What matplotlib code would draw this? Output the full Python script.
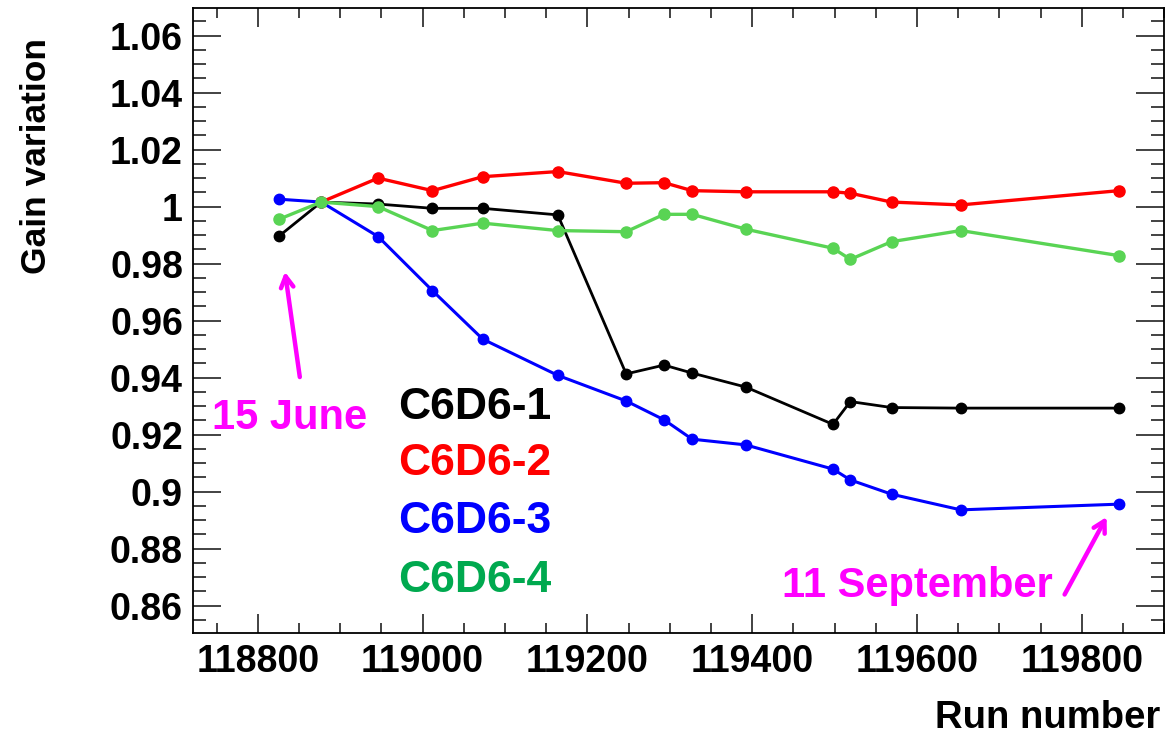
import matplotlib.pyplot as plt
from matplotlib.ticker import MultipleLocator, FuncFormatter

# run numbers of the gain measurements
runs = [118826, 118877, 118946, 119012, 119073, 119164, 119247, 119293,
        119327, 119392, 119498, 119519, 119569, 119653, 119845]

gain_1 = [0.9897, 1.0016, 1.0009, 0.9994, 0.9994, 0.9971, 0.9413, 0.9444,
          0.9416, 0.9367, 0.9236, 0.9316, 0.9295, 0.9293, 0.9293]
# C6D6-2 has no point at the first run
gain_2 = [1.0016, 1.0100, 1.0056, 1.0105, 1.0123, 1.0082, 1.0084,
          1.0056, 1.0052, 1.0052, 1.0047, 1.0016, 1.0006, 1.0056]
gain_3 = [1.0026, 1.0016, 0.9895, 0.9705, 0.9535, 0.9408, 0.9318, 0.9252,
          0.9184, 0.9164, 0.9079, 0.9041, 0.8991, 0.8936, 0.8956]
gain_4 = [0.9956, 1.0016, 1.0000, 0.9916, 0.9942, 0.9916, 0.9912, 0.9973,
          0.9973, 0.9921, 0.9854, 0.9815, 0.9877, 0.9916, 0.9828]

detectors = ['C6D6-1', 'C6D6-2', 'C6D6-3', 'C6D6-4']
line_colors = ['black', '#ff0000', '#0000ff', '#59d454']
text_colors = ['black', '#ff0000', '#0000ff', '#00a94f']

plt.rcParams['font.family'] = ['Liberation Sans', 'DejaVu Sans']
plt.rcParams['font.weight'] = 'bold'

fig = plt.figure(figsize=(11.67, 7.38), dpi=100)
ax = fig.add_axes([0.1651, 0.1427, 0.8326, 0.8461])

ax.plot(runs, gain_1, color=line_colors[0], lw=2, marker='o', ms=7.5, zorder=3)
ax.plot(runs[1:], gain_2, color=line_colors[1], lw=2.4, marker='o', ms=8, zorder=3)
ax.plot(runs, gain_3, color=line_colors[2], lw=2.2, marker='o', ms=7.5, zorder=3)
ax.plot(runs, gain_4, color=line_colors[3], lw=2.4, marker='o', ms=8, zorder=3)

ax.set_xlim(118721, 119900)
ax.set_ylim(0.8505, 1.0696)

ax.xaxis.set_major_locator(MultipleLocator(200))
ax.xaxis.set_minor_locator(MultipleLocator(50))
ax.yaxis.set_major_locator(MultipleLocator(0.02))
ax.yaxis.set_minor_locator(MultipleLocator(0.005))
ax.yaxis.set_major_formatter(FuncFormatter(lambda v, p: '%g' % round(v, 3)))

ax.tick_params(which='both', direction='in', top=True, right=True,
               labelsize=27, width=1.2, color='#222222')
ax.tick_params(axis='x', which='major', length=13.5, pad=8)
ax.tick_params(axis='x', which='minor', length=7.2)
ax.tick_params(axis='y', which='major', length=20, pad=7)
ax.tick_params(axis='y', which='minor', length=9.6)
for lab in ax.get_xticklabels() + ax.get_yticklabels():
    lab.set_fontweight('bold')
for sp in ax.spines.values():
    sp.set_linewidth(1.3)

fig.text(1160 / 1167, 1 - 728 / 738, 'Run number', fontsize=27.5,
         fontweight='bold', ha='right', va='baseline')
fig.text(37 / 1167, 1 - 38 / 738, 'Gain variation', fontsize=25.5,
         fontweight='bold', rotation=90, ha='center', va='top')

# detector labels
label_y = [0.9255, 0.9059, 0.8855, 0.8648]
for name, col, yy in zip(detectors, text_colors, label_y):
    ax.text(118970, yy, name, color=col, fontsize=32, fontweight='bold',
            va='baseline', ha='left')

# date annotations
ax.annotate('', xy=(118833, 0.9771), xytext=(118851, 0.9402),
            arrowprops=dict(arrowstyle='->,head_length=0.8,head_width=0.45',
                            color='#ff00ff', lw=3.2, shrinkA=0, shrinkB=0))
ax.text(118745, 0.922, '15 June', color='#ff00ff', fontsize=30,
        fontweight='bold', va='baseline', ha='left')
ax.annotate('', xy=(119830, 0.8911), xytext=(119779, 0.8639),
            arrowprops=dict(arrowstyle='->,head_length=0.8,head_width=0.45',
                            color='#ff00ff', lw=3.2, shrinkA=0, shrinkB=0))
ax.text(119436, 0.863, '11 September', color='#ff00ff', fontsize=30,
        fontweight='bold', va='baseline', ha='left')

fig.savefig('out.png', dpi=100)
